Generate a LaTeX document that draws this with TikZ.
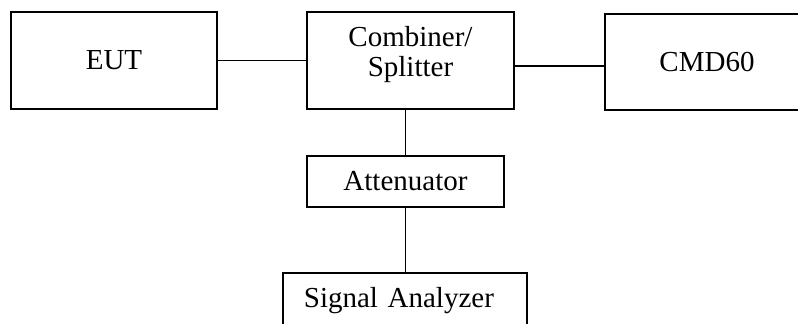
\documentclass[tikz,border=0pt]{standalone}
\usepackage{fontspec}
\setmainfont{Liberation Serif}
\usetikzlibrary{positioning,calc}
\tikzset{unit/.style={draw = black, rectangle, line width = 0.9pt, inner sep = 0pt,
minimum height = 48.5pt, font = \fontsize{14.5}{14.7}\selectfont}}

\begin{document}
\begin{tikzpicture}[x = 0.5pt, y = -0.5pt, line width = 0.9pt]
\useasboundingbox (0,0) rectangle (798,323);
\clip (0,0) rectangle (798,323);
\node[unit, minimum width = 103pt] (EUT) at (114,60.5) {EUT};
\node[unit, minimum width = 103.5pt, text width = 103.5pt, align = center,
text height = 17.35pt, text depth = 31.15pt] (Comb) at (410.5,60.5)
{Combiner/\\Splitter};
\node[unit, minimum width = 102pt, minimum height = 48pt] (CMD) at (707,62) {CMD60};
\node[unit, minimum width = 98.5pt, minimum height = 25.5pt] (Att) at (405.5,181.5)
{Attenuator};
\node[unit, anchor = north west, text width = 101pt, inner xsep = 10.5pt, align = left,
text height = 17.5pt, text depth = 40pt] (SA) at (282,272) {Signal Analyzer};
\draw (EUT) -- (Comb);
\draw ([yshift = -2.75pt]Comb.east) -- ([yshift = -2.75pt]Comb.east -| CMD.west);
\draw (Comb.south -| Att.north) -- (Att.north);
\draw (Att.south) -- (Att.south |- SA.north);
\end{tikzpicture}
\end{document}
